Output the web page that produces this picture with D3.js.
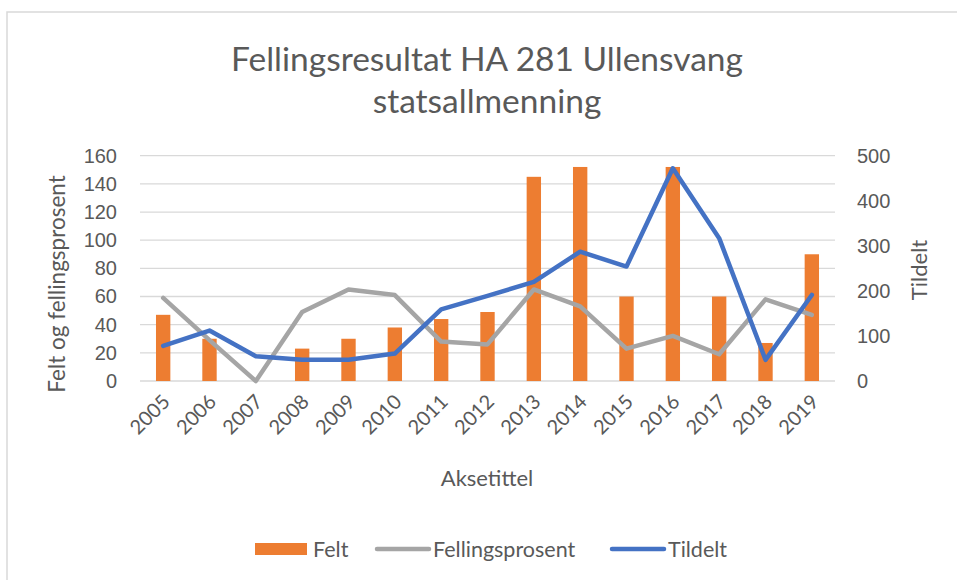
<!DOCTYPE html>
<html lang="no">
<head>
<meta charset="UTF-8">
<title>Fellingsresultat HA 281</title>
<script src="https://d3js.org/d3.v7.min.js"></script>
<style>
  body { margin: 0; background: #fff; }
  svg { font-family: Lato, "Open Sans", sans-serif; }
  .tick-label { fill: #595959; font-size: 20px; }
</style>
</head>
<body>
<div id="chart"></div>
<script>
// data
const years = ["2005","2006","2007","2008","2009","2010","2011","2012","2013","2014","2015","2016","2017","2018","2019"];
const felt = [47, 30, 0, 23, 30, 38, 44, 49, 145, 152, 60, 152, 60, 27, 90];
const fellingsprosent = [59, 29, 0, 49, 65, 61, 28, 26, 65, 53, 23, 32, 19, 58, 47];
const tildelt = [78, 112, 55, 47, 47, 61, 159, 189, 220, 287, 254, 472, 317, 47, 191];
const leftTicks = [0, 20, 40, 60, 80, 100, 120, 140, 160];
const rightTicks = [0, 100, 200, 300, 400, 500];

const width = 957, height = 580;
const plot = { left: 140, right: 835, top: 155.7, bottom: 381 };
const textColor = "#595959";

const svg = d3.select("#chart").append("svg")
    .attr("width", width)
    .attr("height", height);

// chart frame (only the top and left edges fall inside the window)
svg.append("rect")
    .attr("x", 7).attr("y", 12)
    .attr("width", 1000).attr("height", 1000)
    .attr("fill", "none")
    .attr("stroke", "#d9d9d9")
    .attr("stroke-width", 1.5);

const x = d3.scaleBand()
    .domain(years)
    .range([plot.left, plot.right])
    .paddingInner(0.69)
    .paddingOuter(0.345);

const xc = d3.scaleBand().domain(years).range([plot.left, plot.right]);
const cx = d => xc(d) + xc.bandwidth() / 2;

const yLeft = d3.scaleLinear().domain([0, 160]).range([plot.bottom, plot.top]);
const yRight = d3.scaleLinear().domain([0, 500]).range([plot.bottom, plot.top]);

// gridlines
svg.append("g")
    .selectAll("line")
    .data(leftTicks)
    .join("line")
    .attr("x1", plot.left).attr("x2", plot.right)
    .attr("y1", d => yLeft(d)).attr("y2", d => yLeft(d))
    .attr("stroke", "#d9d9d9")
    .attr("stroke-width", 1.3);

// left axis
const gl = svg.append("g")
    .attr("transform", `translate(${plot.left - 23},0)`)
    .call(d3.axisLeft(yLeft).tickValues(leftTicks).tickSize(0).tickPadding(0));
gl.select(".domain").remove();
gl.selectAll("text").attr("class", "tick-label").attr("font-family", null).attr("font-size", null);

// right axis
const gr = svg.append("g")
    .attr("transform", `translate(${plot.right + 22},0)`)
    .call(d3.axisRight(yRight).tickValues(rightTicks).tickSize(0).tickPadding(0));
gr.select(".domain").remove();
gr.selectAll("text").attr("class", "tick-label").attr("font-family", null).attr("font-size", null);

// bars
svg.append("g")
    .selectAll("rect")
    .data(years)
    .join("rect")
    .attr("x", d => x(d))
    .attr("y", (d, i) => yLeft(felt[i]))
    .attr("width", x.bandwidth())
    .attr("height", (d, i) => yLeft(0) - yLeft(felt[i]))
    .attr("fill", "#ed7d31");

// lines
const lineLeft = d3.line().x((d, i) => cx(years[i])).y(d => yLeft(d));
const lineRight = d3.line().x((d, i) => cx(years[i])).y(d => yRight(d));

svg.append("path")
    .datum(fellingsprosent)
    .attr("d", lineLeft)
    .attr("fill", "none")
    .attr("stroke", "#a5a5a5")
    .attr("stroke-width", 4.5)
    .attr("stroke-linejoin", "round")
    .attr("stroke-linecap", "round");

svg.append("path")
    .datum(tildelt)
    .attr("d", lineRight)
    .attr("fill", "none")
    .attr("stroke", "#4472c4")
    .attr("stroke-width", 4.5)
    .attr("stroke-linejoin", "round")
    .attr("stroke-linecap", "round");

// x tick labels, rotated
svg.append("g")
    .selectAll("text")
    .data(years)
    .join("text")
    .attr("class", "tick-label")
    .attr("text-anchor", "end")
    .attr("transform", d => `translate(${cx(d) + 8},${plot.bottom + 22}) rotate(-45)`)
    .text(d => d);

// title
svg.append("text")
    .attr("x", 487).attr("y", 71)
    .attr("text-anchor", "middle")
    .attr("fill", textColor)
    .style("font-size", "33.5px")
    .text("Fellingsresultat HA 281 Ullensvang");
svg.append("text")
    .attr("x", 487).attr("y", 113)
    .attr("text-anchor", "middle")
    .attr("fill", textColor)
    .style("font-size", "33.5px")
    .text("statsallmenning");

// axis titles
svg.append("text")
    .attr("transform", `translate(65,284) rotate(-90)`)
    .attr("text-anchor", "middle")
    .attr("fill", textColor)
    .style("font-size", "22.5px")
    .text("Felt og fellingsprosent");

svg.append("text")
    .attr("transform", `translate(927,270) rotate(-90)`)
    .attr("text-anchor", "middle")
    .attr("fill", textColor)
    .style("font-size", "22px")
    .text("Tildelt");

svg.append("text")
    .attr("x", 487).attr("y", 486)
    .attr("text-anchor", "middle")
    .attr("fill", textColor)
    .style("font-size", "22px")
    .text("Aksetittel");

// legend
const legendItems = [
    { name: "Felt", color: "#ed7d31", type: "rect", x: 255 },
    { name: "Fellingsprosent", color: "#a5a5a5", type: "line", x: 375 },
    { name: "Tildelt", color: "#4472c4", type: "line", x: 610 }
];
const legendY = 549;
const lg = svg.append("g")
    .selectAll("g")
    .data(legendItems)
    .join("g")
    .attr("transform", d => `translate(${d.x},${legendY})`);

lg.filter(d => d.type === "rect").append("rect")
    .attr("x", 0).attr("y", -6)
    .attr("width", 52).attr("height", 12)
    .attr("fill", d => d.color);

lg.filter(d => d.type === "line").append("line")
    .attr("x1", 2).attr("x2", 54)
    .attr("y1", 0).attr("y2", 0)
    .attr("stroke", d => d.color)
    .attr("stroke-width", 4.5)
    .attr("stroke-linecap", "round");

lg.append("text")
    .attr("x", d => d.type === "rect" ? 58 : 58)
    .attr("y", 8)
    .attr("fill", textColor)
    .style("font-size", "21.5px")
    .text(d => d.name);
</script>
</body>
</html>
